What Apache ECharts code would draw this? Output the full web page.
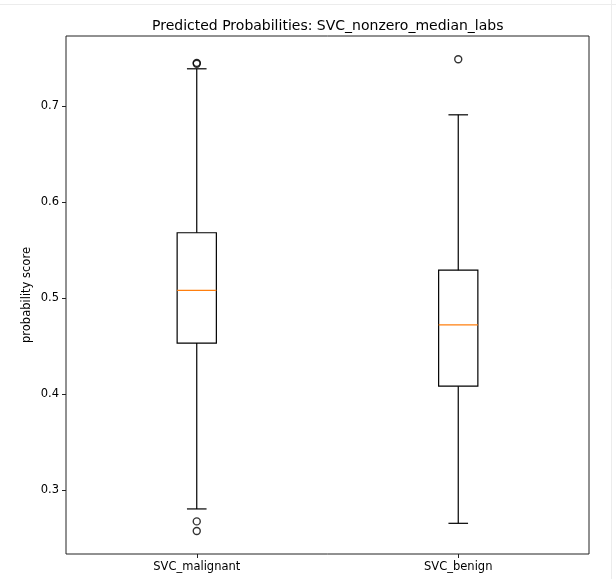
<!DOCTYPE html>
<html>
<head>
<meta charset="utf-8">
<script src="https://cdn.jsdelivr.net/npm/echarts@6/dist/echarts.min.js"></script>
<style>html,body{margin:0;padding:0;background:#fff;}#c{width:616px;height:579px;}</style>
</head>
<body>
<div id="c"></div>
<script>
const categories = ['SVC_malignant', 'SVC_benign'];
const whiskerLow = [0.280, 0.265];
const q1 = [0.453, 0.408];
const median = [0.508, 0.472];
const q3 = [0.568, 0.529];
const whiskerHigh = [0.739, 0.691];
const outliersMalignant = [0.7442, 0.7452, 0.267, 0.257];
const outliersBenign = [0.749];
const yTicks = [0.3, 0.4, 0.5, 0.6, 0.7];

const boxData = categories.map((c, i) => [i, whiskerLow[i], q1[i], median[i], q3[i], whiskerHigh[i]]);
const outlierData = [];
outliersMalignant.forEach(v => outlierData.push([0, v]));
outliersBenign.forEach(v => outlierData.push([1, v]));

const font = 'DejaVu Sans';
const chart = echarts.init(document.getElementById('c'));
chart.setOption({
  animation: false,
  backgroundColor: '#fff',
  title: {
    text: 'Predicted Probabilities: SVC_nonzero_median_labs',
    left: 147, top: 14,
    textStyle: { fontFamily: font, fontSize: 14, fontWeight: 'normal', color: '#000' }
  },
  grid: { left: 66, right: 27, top: 36, bottom: 25, show: true, borderColor: '#222', borderWidth: 1, backgroundColor: 'transparent' },
  xAxis: {
    type: 'category', data: categories, boundaryGap: true,
    axisLine: { show: false },
    axisTick: { show: true, alignWithLabel: true, length: 4, lineStyle: { color: '#222' } },
    axisLabel: { fontFamily: font, fontSize: 11.5, color: '#000', margin: 7 },
    splitLine: { show: false }
  },
  yAxis: {
    type: 'value', min: 0.233, max: 0.7732,
    name: 'probability score', nameLocation: 'middle', nameGap: 33, nameRotate: 90,
    nameMoveOverlap: false,
    nameTextStyle: { fontFamily: font, fontSize: 11.5, color: '#000' },
    axisLine: { show: false },
    axisTick: { show: true, length: 4, lineStyle: { color: '#222' }, customValues: yTicks },
    axisLabel: { fontFamily: font, fontSize: 11.5, color: '#000', margin: 7, customValues: yTicks, formatter: v => v.toFixed(1) },
    splitLine: { show: false }
  },
  series: [
    {
      type: 'custom',
      data: boxData,
      encode: { x: 0, y: [1, 2, 3, 4, 5] },
      renderItem: function (params, api) {
        const idx = api.value(0);
        const band = api.size([1, 0])[0];
        const half = band * 0.075;
        const cap = half / 2;
        const pLow = api.coord([idx, api.value(1)]);
        const pQ1 = api.coord([idx, api.value(2)]);
        const pMed = api.coord([idx, api.value(3)]);
        const pQ3 = api.coord([idx, api.value(4)]);
        const pHigh = api.coord([idx, api.value(5)]);
        const x = pMed[0];
        const ls = { stroke: '#000', lineWidth: 1.2 };
        return {
          type: 'group',
          children: [
            { type: 'line', shape: { x1: x, y1: pQ1[1], x2: x, y2: pLow[1] }, style: ls },
            { type: 'line', shape: { x1: x, y1: pQ3[1], x2: x, y2: pHigh[1] }, style: ls },
            { type: 'line', shape: { x1: x - cap, y1: pLow[1], x2: x + cap, y2: pLow[1] }, style: ls },
            { type: 'line', shape: { x1: x - cap, y1: pHigh[1], x2: x + cap, y2: pHigh[1] }, style: ls },
            { type: 'rect', shape: { x: x - half, y: pQ3[1], width: half * 2, height: pQ1[1] - pQ3[1] }, style: { fill: 'none', stroke: '#000', lineWidth: 1.2 } },
            { type: 'line', shape: { x1: x - half, y1: pMed[1], x2: x + half, y2: pMed[1] }, style: { stroke: '#ff7f0e', lineWidth: 1.3 } }
          ]
        };
      }
    },
    {
      type: 'scatter',
      data: outlierData,
      symbol: 'circle', symbolSize: 7,
      itemStyle: { color: 'rgba(255,255,255,0)', borderColor: '#000', borderWidth: 1.4 }
    }
  ],
  graphic: [
    { type: 'line', shape: { x1: 0, y1: 4.5, x2: 616, y2: 4.5 }, style: { stroke: '#ececec', lineWidth: 1 } },
    { type: 'line', shape: { x1: 611.5, y1: 0, x2: 611.5, y2: 579 }, style: { stroke: '#ececec', lineWidth: 1 } }
  ]
});
</script>
</body>
</html>
